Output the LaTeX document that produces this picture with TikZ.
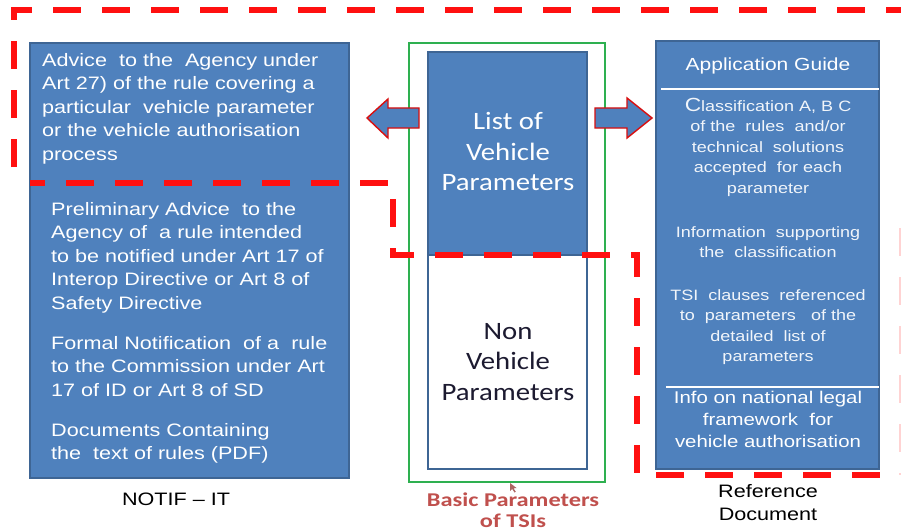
\documentclass[tikz,border=0pt]{standalone}
\usepackage{fontspec}
\setmainfont{Liberation Sans}[FakeStretch=1.2]
\newfontfamily\calib{Carlito}[FakeStretch=1.15]
\newfontfamily\calibbold{Carlito Bold}[FakeStretch=1.25]
\definecolor{boxblue}{HTML}{4F81BD}
\definecolor{boxedge}{HTML}{3E6594}
\definecolor{dashred}{HTML}{FF1010}
\definecolor{tsigreen}{HTML}{2EB050}
\definecolor{labelred}{HTML}{C0504D}
\definecolor{darktext}{HTML}{1C1A30}
\tikzset{
  bluebox/.style={draw=boxedge, line width=1.1pt, fill=boxblue},
  whitebox/.style={draw=boxedge, line width=1.3pt, fill=white},
  frame/.style={draw=tsigreen, line width=1.3pt},
  regionline/.style={draw=dashred, line width=5.5pt, dash pattern=on 28pt off 21pt},
  blockarrow/.style={draw=dashred!85!black, line width=1.4pt, fill=boxblue, line join=miter},
  lefttext/.style={inner sep=0pt, anchor=north west, align=left, text=white},
  midtext/.style={inner sep=0pt, anchor=north, align=center},
  caption/.style={inner sep=0pt, anchor=north, align=center, text=black, font=\fontsize{18}{23}\selectfont}
}
\begin{document}
\begin{tikzpicture}[x=1pt, y=-1pt]
\useasboundingbox[fill=white] (0,0) rectangle (901,532);

% NOTIF-IT box
\path[bluebox] (30,43) rectangle (349,478);
\node[lefttext, font=\fontsize{18}{23.5}\selectfont] (adv) at (42,53)
  {Advice\ \ to the\ \ Agency under\\Art 27) of the rule covering a\\particular\ \ vehicle parameter\\or the vehicle authorisation\\process};
\node[lefttext, font=\fontsize{18}{23.5}\selectfont] (prelim) at (51,202)
  {Preliminary Advice\ \ to the\\Agency of\ \ a rule intended\\to be notified under Art 17 of\\Interop Directive or Art 8 of\\Safety Directive};
\node[lefttext, font=\fontsize{18}{23.5}\selectfont] (formal) at (51,336)
  {Formal Notification\ \ of a\ \ rule\\to the Commission under Art\\17 of ID or Art 8 of SD};
\node[lefttext, font=\fontsize{18}{23.5}\selectfont] (docs) at (51,423)
  {Documents Containing\\the\ \ text of rules (PDF)};
\node[caption] (notif) at (176,493) {NOTIF -- IT};

% Basic parameters of TSIs
\path[frame] (409,43) rectangle (605,482);
\path[bluebox] (428,52) rectangle (587,255);
\path[whitebox] (428,255) rectangle (587,469);
\node[midtext, text=white, font=\calib\fontsize{25}{30.5}\selectfont] (vp) at (508,112.5)
  {List of\\Vehicle\\Parameters};
\node[midtext, text=darktext, font=\calib\fontsize{25}{30.5}\selectfont] (nvp) at (508,323)
  {Non\\Vehicle\\Parameters};
\node[midtext, text=labelred, font=\calibbold\fontsize{19.5}{20.5}\selectfont] (basic) at (513,493)
  {Basic Parameters\\of TSIs};
% pointer mark under the frame
\path[fill=labelred!80!black, opacity=0.8] (510,483) -- (510,491) -- (512.2,489) -- (514.5,492.5) -- (515.8,491.8) -- (513.6,488.4) -- (516.5,488) -- cycle;

% Reference document box
\path[bluebox] (656,41) rectangle (879,469);
\draw[white, line width=1.2pt] (661,89) -- (879,89);
\draw[white, line width=1.2pt] (666,387) -- (879,387);
\node[midtext, text=white, font=\fontsize{17.5}{22}\selectfont] (guide) at (768,57.5) {Application Guide};
\node[midtext, text=white!92!boxblue, font=\fontsize{15}{20.5}\selectfont] (classif) at (768,98)
  {{\fontsize{19}{20.5}\selectfont C}lassification A,\ B\ C\\of the\ \ rules\ \ and/or\\technical\ \ solutions\\accepted\ \ for each\\parameter};
\node[midtext, text=white!92!boxblue, font=\fontsize{15}{20.5}\selectfont] (support) at (768,226)
  {Information\ \ supporting\\the\ \ classification};
\node[midtext, text=white!92!boxblue, font=\fontsize{15}{20.5}\selectfont] (clauses) at (768,289)
  {TSI\ \ clauses\ \ referenced\\to\ \ parameters\ \ \ of the\\detailed\ \ list of\\parameters};
\node[midtext, text=white, font=\fontsize{17}{22}\selectfont] (legal) at (768,391)
  {Info on national legal\\framework\ \ for\\vehicle authorisation};
\node[caption] (refdoc) at (768,484) {Reference\\Document};

% block arrows out of the parameter list
\path[blockarrow] (367,118) -- (388,99) -- (388,108) -- (419,108) -- (419,128) -- (388,128) -- (388,138) -- cycle;
\path[blockarrow] (595,108) -- (627,108) -- (627,98) -- (652,118) -- (627,138) -- (627,128) -- (595,128) -- cycle;

% dashed boundary of the regulated scope
\draw[regionline] (14,167) -- (14,10) -- (910,10);
\draw[regionline, dash phase=13pt] (30,183) -- (393,183) -- (393,255) -- (637,255) -- (637,475) -- (880,475);
\draw[regionline, opacity=0.18] (902,228) -- (902,475);
\end{tikzpicture}
\end{document}
